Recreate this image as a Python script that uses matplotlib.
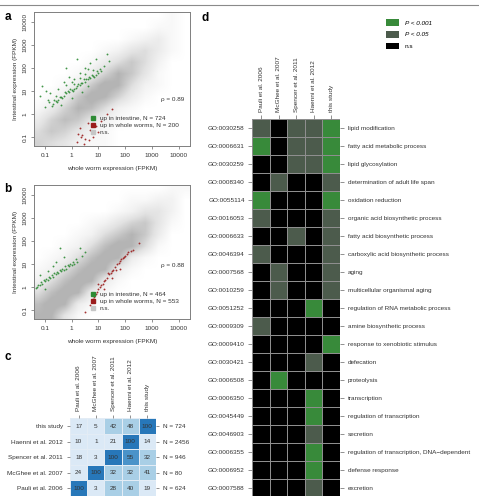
import matplotlib.pyplot as plt
import numpy as np
from matplotlib.colors import ListedColormap, BoundaryNorm, LinearSegmentedColormap
from matplotlib.lines import Line2D
from matplotlib.patches import Patch

plt.rcParams['font.family'] = ['Liberation Sans', 'DejaVu Sans']

# ---------------- data ----------------
tick_pos = [-1, 0, 1, 2, 3, 4]                      # log10 FPKM
tick_labels = ['0.1', '1', '10', '100', '1000', '10000']

# density of n.s. genes in half-decade bins, log10 from -1.5 to 4.5 (rows top -> bottom)
cloud_a = [
    [0, 0, 0, 0, 0, 0, 0, 0, 0, 0, 1, 0],
    [0, 0, 0, 0, 0, 0, 0, 0, 0, 1, 1, 0],
    [0, 0, 0, 0, 0, 0, 0, 1, 2, 3, 1, 0],
    [0, 0, 0, 0, 0, 1, 2, 4, 5, 3, 1, 0],
    [0, 0, 0, 0, 1, 3, 5, 7, 5, 2, 0, 0],
    [0, 0, 0, 1, 3, 6, 9, 7, 4, 1, 0, 0],
    [0, 0, 1, 3, 7, 10, 9, 5, 2, 1, 0, 0],
    [0, 1, 3, 7, 10, 9, 6, 3, 1, 0, 0, 0],
    [1, 3, 6, 9, 8, 5, 2, 1, 0, 0, 0, 0],
    [3, 6, 8, 7, 4, 2, 1, 0, 0, 0, 0, 0],
    [5, 7, 6, 4, 2, 1, 0, 0, 0, 0, 0, 0],
    [6, 5, 4, 2, 1, 1, 0, 0, 0, 0, 0, 0],
]
cloud_b = [
    [0, 0, 0, 0, 0, 0, 0, 0, 0, 0, 1, 1],
    [0, 0, 0, 0, 0, 0, 0, 1, 1, 2, 2, 0],
    [0, 0, 0, 0, 0, 0, 1, 2, 4, 4, 2, 0],
    [0, 0, 0, 0, 1, 2, 4, 6, 7, 4, 1, 0],
    [0, 0, 0, 1, 2, 5, 7, 9, 7, 3, 0, 0],
    [0, 0, 1, 2, 5, 8, 10, 9, 5, 1, 0, 0],
    [0, 1, 2, 5, 8, 10, 9, 3, 1, 0, 0, 0],
    [1, 2, 5, 8, 10, 9, 3, 1, 0, 0, 0, 0],
    [2, 5, 8, 10, 9, 3, 1, 0, 0, 0, 0, 0],
    [5, 8, 10, 9, 3, 1, 0, 0, 0, 0, 0, 0],
    [8, 10, 9, 3, 1, 0, 0, 0, 0, 0, 0, 0],
    [9, 9, 4, 1, 0, 0, 0, 0, 0, 0, 0, 0],
]

# up in intestine / up in whole worms (log10 FPKM)
green_a_x = [-0.7, -0.6, -0.5, -0.4, -0.3, -0.2, -0.1, 0.0, 0.1, 0.2, 0.3, 0.4, 0.5, 0.6, 0.7,
             0.8, 0.9, 1.0, 1.1, -0.9, -0.8, -0.5, -0.3, -0.1, 0.1, 0.3, 0.5, 0.7, 0.2, -0.2,
             -1.1, -1.0, 0.9, 1.2, 0.4, 0.0, -0.4, 1.4, 0.6, -0.55, 0.15, 0.85,
             -0.65, -0.45, -0.35, -0.25, -0.15, -0.05, 0.05, 0.25, 0.35, 0.45, 0.55, 0.65, 0.75,
             0.95, 1.05, -0.75, -0.6, -0.2, 0.3, 0.8, -1.2, -0.95, 0.0, 0.5, 1.3, -0.85, 0.1, 0.6]
green_a_y = [0.45, 0.55, 0.6, 0.75, 0.8, 0.9, 0.95, 1.05, 1.1, 1.2, 1.25, 1.35, 1.4, 1.5, 1.55,
             1.65, 1.7, 1.8, 1.85, 0.6, 0.9, 1.1, 1.4, 1.6, 1.5, 1.8, 2.0, 2.2, 2.4, 2.0,
             1.2, 0.3, 2.4, 2.1, 0.95, 0.7, 0.4, 2.3, 1.2, 0.5, 1.15, 1.6,
             0.6, 0.75, 0.7, 0.95, 1.0, 1.1, 1.0, 1.3, 1.35, 1.5, 1.5, 1.6, 1.7,
             1.85, 1.95, 0.35, 0.8, 1.25, 1.55, 1.9, 0.8, 1.0, 1.4, 1.75, 2.6, 0.5, 1.3, 1.95]
red_a_x = [0.2, 0.4, 0.5, 0.7, 0.9, 1.1, 0.6, 1.3, 0.3, 0.8, 1.0, 1.5, 0.45, 0.25, 0.65, 0.35]
red_a_y = [-1.2, -0.9, -1.1, -0.7, -0.5, -0.3, -0.4, 0.0, -0.6, -1.0, -0.8, 0.2, -1.3, -0.85,
           -1.15, -1.0]

green_b_x = [-1.3, -1.2, -1.1, -1.0, -0.9, -0.8, -0.7, -0.6, -0.5, -0.4, -0.3, -0.2, -0.1, 0.0,
             0.1, 0.2, 0.4, -0.44, -0.9, -1.2, -0.3, 0.3, -0.7, -1.0,
             -1.25, -1.15, -1.05, -0.95, -0.85, -0.75, -0.65, -0.55, -0.45, -0.35, -0.25, -0.15,
             -0.05, 0.05, 0.15, -0.6, -1.35, 0.5]
green_b_y = [0.02, 0.1, 0.15, 0.25, 0.3, 0.4, 0.45, 0.55, 0.6, 0.7, 0.75, 0.8, 0.9, 0.95,
             1.0, 1.1, 1.35, 1.7, 0.7, 0.5, 1.3, 1.7, 0.9, -0.1,
             0.1, 0.2, 0.3, 0.35, 0.45, 0.5, 0.6, 0.65, 0.75, 0.8, 0.9, 0.95,
             1.0, 1.1, 1.2, 1.1, -0.05, 1.5]
red_b_x = [0.5, 0.7, 0.8, 0.9, 1.0, 1.1, 1.2, 1.3, 1.4, 1.5, 1.6, 1.7, 1.8, 1.9, 2.0, 2.1,
           1.2, 1.5, 1.8, 2.3, 2.5, 1.0, 1.35, 1.65,
           0.85, 0.95, 1.05, 1.15, 1.25, 1.45, 1.55, 1.75, 1.85, 1.95, 2.05, 2.2]
red_b_y = [-1.1, -0.8, -0.5, -0.3, -0.1, 0.1, 0.25, 0.4, 0.55, 0.7, 0.85, 1.0, 1.15, 1.25, 1.35, 1.5,
           -0.1, 0.4, 0.8, 1.6, 1.9, 0.15, 0.6, 0.75,
           -0.45, -0.2, 0.0, 0.15, 0.3, 0.6, 0.75, 1.05, 1.2, 1.3, 1.45, 1.55]

rho_a, rho_b = 0.89, 0.88
n_up_intestine = [724, 464]
n_up_worm = [200, 553]

studies = ['Pauli et al. 2006', 'McGhee et al. 2007', 'Spencer et al. 2011',
           'Haenni et al. 2012', 'this study']
overlap_rows = ['this study', 'Haenni et al. 2012', 'Spencer et al. 2011',
                'McGhee et al. 2007', 'Pauli et al. 2006']
overlap = [
    [17, 5, 42, 48, 100],
    [10, 1, 21, 100, 14],
    [18, 3, 100, 55, 32],
    [24, 100, 32, 32, 41],
    [100, 3, 28, 40, 19],
]
n_genes = [724, 2456, 946, 80, 624]

go_ids = ['GO:0030258', 'GO:0006631', 'GO:0030259', 'GO:0008340', 'GO:0055114', 'GO:0016053',
          'GO:0006633', 'GO:0046394', 'GO:0007568', 'GO:0010259', 'GO:0051252', 'GO:0009309',
          'GO:0009410', 'GO:0030421', 'GO:0006508', 'GO:0006350', 'GO:0045449', 'GO:0046903',
          'GO:0006355', 'GO:0006952', 'GO:0007588']
go_terms = ['lipid modification', 'fatty acid metabolic process', 'lipid glycosylation',
            'determination of adult life span', 'oxidation reduction',
            'organic acid biosynthetic process', 'fatty acid biosynthetic process',
            'carboxylic acid biosynthetic process', 'aging', 'multicellular organismal aging',
            'regulation of RNA metabolic process', 'amine biosynthetic process',
            'response to xenobiotic stimulus', 'defecation', 'proteolysis', 'transcription',
            'regulation of transcription', 'secretion',
            'regulation of transcription, DNA\u2212dependent', 'defense response', 'excretion']
# 0 = n.s, 1 = P < 0.05, 2 = P < 0.001
go_sig = [
    [1, 0, 1, 1, 2],
    [2, 0, 1, 1, 2],
    [0, 0, 1, 1, 2],
    [0, 1, 0, 0, 1],
    [2, 0, 0, 0, 2],
    [1, 0, 0, 0, 1],
    [0, 0, 1, 0, 1],
    [1, 0, 0, 0, 1],
    [0, 1, 0, 0, 1],
    [0, 1, 0, 0, 1],
    [0, 0, 0, 2, 0],
    [1, 0, 0, 0, 0],
    [0, 0, 0, 0, 2],
    [0, 0, 0, 1, 0],
    [0, 2, 0, 0, 0],
    [0, 0, 0, 2, 0],
    [0, 0, 0, 2, 0],
    [0, 0, 0, 1, 0],
    [0, 0, 0, 2, 0],
    [0, 0, 0, 2, 0],
    [0, 0, 0, 1, 0],
]

# ---------------- style ----------------
FS = 4.6
GREEN = '#2e8b35'
RED = '#9b1c1c'
GRAY = '#c6c6c6'
AX_COL = '#7f7f7f'
cloud_cmap = LinearSegmentedColormap.from_list('cloud', ['#ffffff', '#e2e2e2', '#b4b4b4'])

W, H = 479, 496
fig = plt.figure(figsize=(W / 100, H / 100), dpi=100)


def px_axes(left, top, right, bottom):
    return fig.add_axes([left / W, 1 - bottom / H, (right - left) / W, (bottom - top) / H])


def scatter_panel(ax, cloud, gx, gy, rx, ry, rho, n_int, n_worm, rho_y, leg_y):
    ax.imshow(np.array(cloud, dtype=float), extent=(-1.5, 4.5, -1.5, 4.5), origin='upper',
              cmap=cloud_cmap, vmin=0, vmax=9, interpolation='bilinear', aspect='auto', zorder=1)
    ax.scatter(gx, gy, s=1.8, color=GREEN, linewidths=0, alpha=0.9, zorder=3)
    ax.scatter(rx, ry, s=1.8, color=RED, linewidths=0, alpha=0.9, zorder=3)
    ax.set_xlim(-1.41, 4.42)
    ax.set_ylim(-1.39, 4.43)
    ax.set_xticks(tick_pos)
    ax.set_xticklabels(tick_labels)
    ax.set_yticks(tick_pos)
    ax.set_yticklabels(tick_labels, rotation=90, va='center')
    ax.tick_params(labelsize=FS, length=2.2, width=0.6, color=AX_COL, pad=2.5, labelcolor='#333333')
    for sp in ax.spines.values():
        sp.set_color(AX_COL)
        sp.set_linewidth(0.7)
    ax.set_xlabel('whole worm expression (FPKM)', fontsize=FS, labelpad=6, color='#333333')
    ax.set_ylabel('Intestinal expression (FPKM)', fontsize=FS, labelpad=3, color='#333333')
    ax.text(0.965, rho_y, '\u03c1 = %.2f' % rho, transform=ax.transAxes, fontsize=FS,
            ha='right', va='center', color='#333333', zorder=5)
    handles = [Line2D([], [], marker='s', ls='none', color=GREEN, markersize=3.2),
               Line2D([], [], marker='s', ls='none', color=RED, markersize=3.2),
               Line2D([], [], marker='s', ls='none', color=GRAY, markersize=3.2)]
    labels = ['up in intestine, N = %d' % n_int, 'up in whole worms, N = %d' % n_worm, 'n.s.']
    ax.legend(handles, labels, loc='upper left', bbox_to_anchor=(0.36, leg_y), frameon=False,
              fontsize=FS, handlelength=1.0, handletextpad=0.5, labelspacing=0.25,
              borderpad=0, borderaxespad=0, labelcolor='#333333')


# panel a
ax_a = px_axes(34, 12, 190, 146)
scatter_panel(ax_a, cloud_a, green_a_x, green_a_y, red_a_x, red_a_y, rho_a,
              n_up_intestine[0], n_up_worm[0], 0.35, 0.225)

# panel b
ax_b = px_axes(34, 185, 190, 319)
scatter_panel(ax_b, cloud_b, green_b_x, green_b_y, red_b_x, red_b_y, rho_b,
              n_up_intestine[1], n_up_worm[1], 0.40, 0.205)

# panel c
ax_c = px_axes(70, 418.3, 156, 495.8)
ov = np.array(overlap)
ov_cmap = ListedColormap(['#dbe9f6', '#a9cfe6', '#4a93c9', '#2777b9'])
ov_norm = BoundaryNorm([0, 25, 50, 75, 101], ov_cmap.N)
ax_c.pcolormesh(ov, cmap=ov_cmap, norm=ov_norm, edgecolors='#e3ecf5', linewidth=0.4)
for i in range(ov.shape[0]):
    for j in range(ov.shape[1]):
        ax_c.text(j + 0.5, i + 0.5, str(overlap[i][j]), ha='center', va='center',
                  fontsize=FS, color='#333333')
ax_c.set_xlim(0, 5)
ax_c.set_ylim(5, 0)
ax_c.xaxis.tick_top()
ax_c.set_xticks(np.arange(len(studies)) + 0.5)
ax_c.set_xticklabels(studies, rotation=90)
ax_c.set_yticks(np.arange(len(overlap_rows)) + 0.5)
ax_c.set_yticklabels(overlap_rows)
ax_c2 = ax_c.twinx()
ax_c2.set_ylim(5, 0)
ax_c2.set_yticks(np.arange(len(n_genes)) + 0.5)
ax_c2.set_yticklabels(['N = %d' % n for n in n_genes])
for a in (ax_c, ax_c2):
    a.tick_params(labelsize=FS, length=2.5, width=0.6, color=AX_COL, pad=2.5, labelcolor='#333333')
    for sp in a.spines.values():
        sp.set_visible(False)

# panel d
ax_d = px_axes(252.3, 119.5, 340, 496.5)
sig = np.array(go_sig)
sig_cmap = ListedColormap(['#000000', '#4c5b4c', '#388a3a'])
ax_d.pcolormesh(sig, cmap=sig_cmap, vmin=-0.5, vmax=2.5, edgecolors='#8e8e8e', linewidth=0.6)
ax_d.set_xlim(0, 5)
ax_d.set_ylim(len(go_ids), 0)
ax_d.xaxis.tick_top()
ax_d.set_xticks(np.arange(len(studies)) + 0.5)
ax_d.set_xticklabels(studies, rotation=90)
ax_d.set_yticks(np.arange(len(go_ids)) + 0.5)
ax_d.set_yticklabels(go_ids)
ax_d2 = ax_d.twinx()
ax_d2.set_ylim(len(go_ids), 0)
ax_d2.set_yticks(np.arange(len(go_terms)) + 0.5)
ax_d2.set_yticklabels(go_terms)
for a in (ax_d, ax_d2):
    a.tick_params(labelsize=FS, length=3, width=0.6, color=AX_COL, pad=2.5, labelcolor='#333333')
    for sp in a.spines.values():
        sp.set_visible(False)

leg_handles = [Patch(facecolor='#388a3a'), Patch(facecolor='#4c5b4c'), Patch(facecolor='#000000')]
leg = fig.legend(leg_handles, ['P < 0.001', 'P < 0.05', 'n.s'], loc='upper left',
                 bbox_to_anchor=(386 / W, 1 - 19 / H), frameon=False, fontsize=FS,
                 handlelength=2.0, handleheight=1.3, handletextpad=0.9, labelspacing=0.75,
                 borderpad=0, borderaxespad=0)
for t in leg.get_texts()[:2]:
    t.set_fontstyle('italic')

# panel letters and top rule
for letter, x, y in [('a', 8, 17), ('b', 8, 189), ('c', 8, 357), ('d', 205, 18)]:
    fig.text(x / W, 1 - y / H, letter, fontsize=8.5, fontweight='bold', ha='center', va='center')
fig.add_artist(Line2D([0, 1], [1 - 5 / H, 1 - 5 / H], color='#8a8a8a', linewidth=0.8))

fig.savefig('out.png', dpi=100)
